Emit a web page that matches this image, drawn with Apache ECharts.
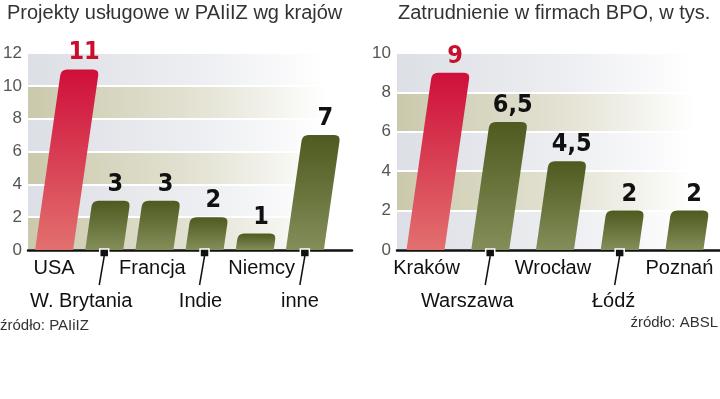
<!DOCTYPE html>
<html lang="pl">
<head>
<meta charset="UTF-8">
<title>Projekty usługowe / Zatrudnienie BPO</title>
<script src="https://cdn.jsdelivr.net/npm/echarts@6/dist/echarts.min.js"></script>
<style>
  html, body { margin: 0; padding: 0; background: #fff; }
  #main { width: 720px; height: 399px; }
</style>
</head>
<body>
<div id="main"></div>
<script>
// dane - lewy wykres
var krajeNazwy = ['USA', 'W. Brytania', 'Francja', 'Indie', 'Niemcy', 'inne'];
var krajeProjekty = [11, 3, 3, 2, 1, 7];
var krajeTicks = [0, 2, 4, 6, 8, 10, 12];

// dane - prawy wykres
var miastaNazwy = ['Kraków', 'Warszawa', 'Wrocław', 'Łódź', 'Poznań'];
var miastaZatrudnienie = [9, 6.5, 4.5, 2, 2];
var miastaTicks = [0, 2, 4, 6, 8, 10];

// przesuniecia podpisow (uklad, nie dane)
var krajeNudge = [0, -23, -2, -4, 7, -5];
var miastaNudge = [1, -23, -2, -6, -5];

var chart = echarts.init(document.getElementById('main'));
var SLANT = 0.144;
var BAR_W = 38;
var LABEL_FONT = '"Liberation Sans", Arial, sans-serif';
var NUM_FONT = '"Liberation Sans Narrow", "DejaVu Sans Condensed", "Liberation Sans", sans-serif';

function band(c) {
    return new echarts.graphic.LinearGradient(0, 0, 1, 0, [
        {offset: 0, color: c},
        {offset: 0.55, color: echarts.color.lerp(0.5, [c, '#ffffff'])},
        {offset: 0.92, color: '#ffffff'},
        {offset: 1, color: '#ffffff'}
    ]);
}
var GRAY = '#dcdfe5', OLIVE = '#cbc9ac';

function barFill(red) {
    return new echarts.graphic.LinearGradient(0, 0, 0, 1, red ? [
        {offset: 0, color: '#cf0f3a'},
        {offset: 1, color: '#e2706e'}
    ] : [
        {offset: 0, color: '#4e5a1f'},
        {offset: 1, color: '#838e5a'}
    ]);
}

function makeRender(names, nudge) {
    return function (params, api) {
        var i = api.value(0), v = api.value(1);
        var base = api.coord([i, 0]);
        var top = api.coord([i, v]);
        var bx = base[0], by = base[1];
        var ty = top[1];
        var tx = bx + (by - ty) * SLANT;
        var hw = BAR_W / 2, r = 6;
        var d = 'M' + (bx - hw) + ' ' + by +
            ' L' + (bx + hw) + ' ' + by +
            ' L' + (tx + hw - SLANT * r) + ' ' + (ty + r) +
            ' Q' + (tx + hw) + ' ' + ty + ' ' + (tx + hw - r) + ' ' + ty +
            ' L' + (tx - hw + r) + ' ' + ty +
            ' Q' + (tx - hw) + ' ' + ty + ' ' + (tx - hw - SLANT * r) + ' ' + (ty + r) + ' Z';
        var red = params.dataIndex === 0;
        var kids = [
            {type: 'path', shape: {pathData: d}, style: {fill: barFill(red)}},
            {
                type: 'text',
                style: {
                    x: tx + 4, y: ty - 4, text: String(v).replace('.', ','),
                    align: 'center', verticalAlign: 'bottom',
                    textAlign: 'center', textVerticalAlign: 'bottom',
                    fill: red ? '#c8102e' : '#111',
                    font: 'bold 25px ' + NUM_FONT
                }
            }
        ];
        var lx = bx + nudge[params.dataIndex];
        if (params.dataIndex % 2 === 0) {
            kids.push({
                type: 'text',
                style: {
                    x: lx, y: 268, text: names[params.dataIndex],
                    align: 'center', verticalAlign: 'middle',
                    textAlign: 'center', textVerticalAlign: 'middle',
                    fill: '#111', font: '20px ' + LABEL_FONT
                }
            });
        } else {
            kids.push({
                type: 'rect', shape: {x: bx - 4.5, y: by - 1, width: 9, height: 8},
                style: {fill: '#111', stroke: '#fff', lineWidth: 1.5}
            });
            kids.push({
                type: 'line', shape: {x1: bx, y1: by + 6, x2: bx - 5, y2: by + 35},
                style: {stroke: '#111', lineWidth: 1.5}
            });
            kids.push({
                type: 'text',
                style: {
                    x: lx, y: 301, text: names[params.dataIndex],
                    align: 'center', verticalAlign: 'middle',
                    textAlign: 'center', textVerticalAlign: 'middle',
                    fill: '#111', font: '20px ' + LABEL_FONT
                }
            });
        }
        return {type: 'group', children: kids};
    };
}

function yAxisFor(grid, ticks, colors) {
    return {
        type: 'value', gridIndex: grid,
        min: ticks[0], max: ticks[ticks.length - 1], interval: ticks[1] - ticks[0],
        axisLine: {show: false}, axisTick: {show: false},
        axisLabel: {color: '#555', fontSize: 17, fontFamily: LABEL_FONT, margin: 6},
        splitLine: {show: true, lineStyle: {color: '#ffffff', width: 2}},
        splitArea: {show: true, areaStyle: {color: colors.map(band)}}
    };
}

function xAxisFor(grid, min, max) {
    return {
        type: 'value', gridIndex: grid, min: min, max: max,
        axisLine: {show: true, onZero: false, lineStyle: {color: '#111', width: 2.5}},
        axisTick: {show: false}, axisLabel: {show: false}, splitLine: {show: false}
    };
}

var option = {
    animation: false,
    backgroundColor: '#fff',
    title: [
        {text: 'Projekty usługowe w PAIiIZ wg krajów', left: 7, top: 3, padding: 0,
         textStyle: {fontSize: 20, fontWeight: 'normal', color: '#333', fontFamily: LABEL_FONT}},
        {text: 'Zatrudnienie w firmach BPO, w tys.', left: 398, top: 3, padding: 0,
         textStyle: {fontSize: 20, fontWeight: 'normal', color: '#333', fontFamily: LABEL_FONT}},
        {text: 'źródło: PAIiIZ', left: 0, top: 318, padding: 0,
         textStyle: {fontSize: 15, fontWeight: 'normal', color: '#333', fontFamily: LABEL_FONT}},
        {text: 'źródło: ABSL', right: 2, top: 315, padding: 0,
         textStyle: {fontSize: 15, fontWeight: 'normal', color: '#333', fontFamily: LABEL_FONT}}
    ],
    grid: [
        {left: 28, top: 53, width: 324, height: 197},
        {left: 397, top: 53, width: 323, height: 197}
    ],
    xAxis: [xAxisFor(0, -0.52, 5.94), xAxisFor(1, -0.44, 4.55)],
    yAxis: [yAxisFor(0, krajeTicks, [OLIVE, GRAY]), yAxisFor(1, miastaTicks, [GRAY, OLIVE])],
    series: [
        {
            type: 'custom', xAxisIndex: 0, yAxisIndex: 0, clip: false,
            renderItem: makeRender(krajeNazwy, krajeNudge),
            data: krajeProjekty.map(function (v, i) { return [i, v]; })
        },
        {
            type: 'custom', xAxisIndex: 1, yAxisIndex: 1, clip: false,
            renderItem: makeRender(miastaNazwy, miastaNudge),
            data: miastaZatrudnienie.map(function (v, i) { return [i, v]; })
        }
    ]
};
chart.setOption(option);
</script>
</body>
</html>
